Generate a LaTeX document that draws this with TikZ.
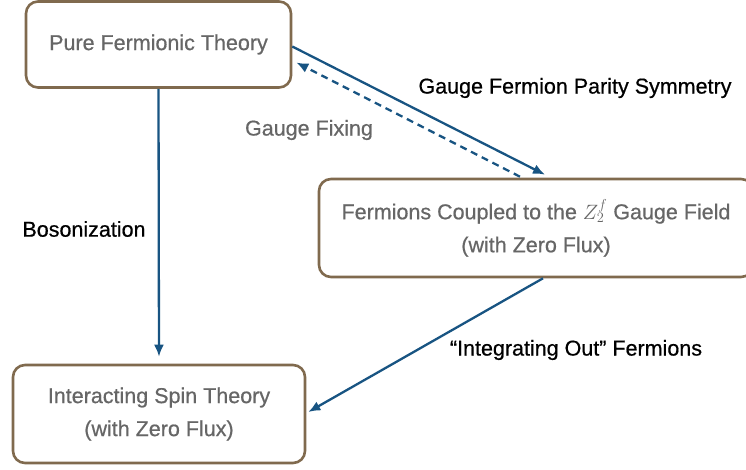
\documentclass[tikz,border=0pt]{standalone}
\usepackage{fontspec}
\setmainfont{Liberation Sans}[FakeBold=0.6]
\usetikzlibrary{arrows.meta,calc}
\tikzset{>={Latex[length=12pt,width=10pt]}}
\definecolor{boxbrown}{RGB}{128,106,78}
\definecolor{mapblue}{RGB}{24,84,130}
\definecolor{textgray}{RGB}{102,102,102}
\tikzstyle{theory}=[rectangle,draw=boxbrown,fill=white,line width=2.6pt,rounded corners=12pt,text=textgray,align=center,font=\fontsize{21.5}{33}\selectfont]
\tikzstyle{map}=[->,draw=mapblue,line width=2.3pt]
\tikzstyle{maplabel}=[font=\fontsize{21.5}{26}\selectfont]

\begin{document}
\begin{tikzpicture}[x=1pt,y=-1pt,inner sep=0pt]
\useasboundingbox (0,0) rectangle (746,470);

\node[theory,minimum width=265pt,minimum height=86pt] (pure) at (158.5,44.5) {Pure Fermionic Theory};
\node[theory,minimum width=434pt,minimum height=98pt] (coupled) at (536,228)
	{Fermions Coupled to the $Z_2^f$ Gauge Field \\ (with Zero Flux)};
\node[theory,minimum width=292pt,minimum height=98pt] (spin) at (159,414)
	{Interacting Spin Theory \\ (with Zero Flux)};

% arrows
\draw[map,shorten >=7pt] (pure.south) -- (spin.north);
\draw[map] ([yshift=-2pt]pure.east) -- ([xshift=9pt,yshift=3pt]coupled.north);
\draw[map,dash pattern=on 7pt off 5pt] ([xshift=-16pt,yshift=1pt]coupled.north) -- ([xshift=4pt,yshift=-18pt]pure.east);
\draw[map] ([xshift=7pt]coupled.south) -- ([xshift=2pt,yshift=2pt]spin.east);

% labels
\node[maplabel] (boson) at (84,229) {Bosonization};
\node[maplabel] (gauge) at (575,88) {Gauge Fermion Parity Symmetry};
\node[maplabel,text=textgray] (fixing) at (309,130) {Gauge Fixing};
\node[maplabel] (integrate) at (576,350) {“Integrating Out” Fermions};

\end{tikzpicture}
\end{document}
